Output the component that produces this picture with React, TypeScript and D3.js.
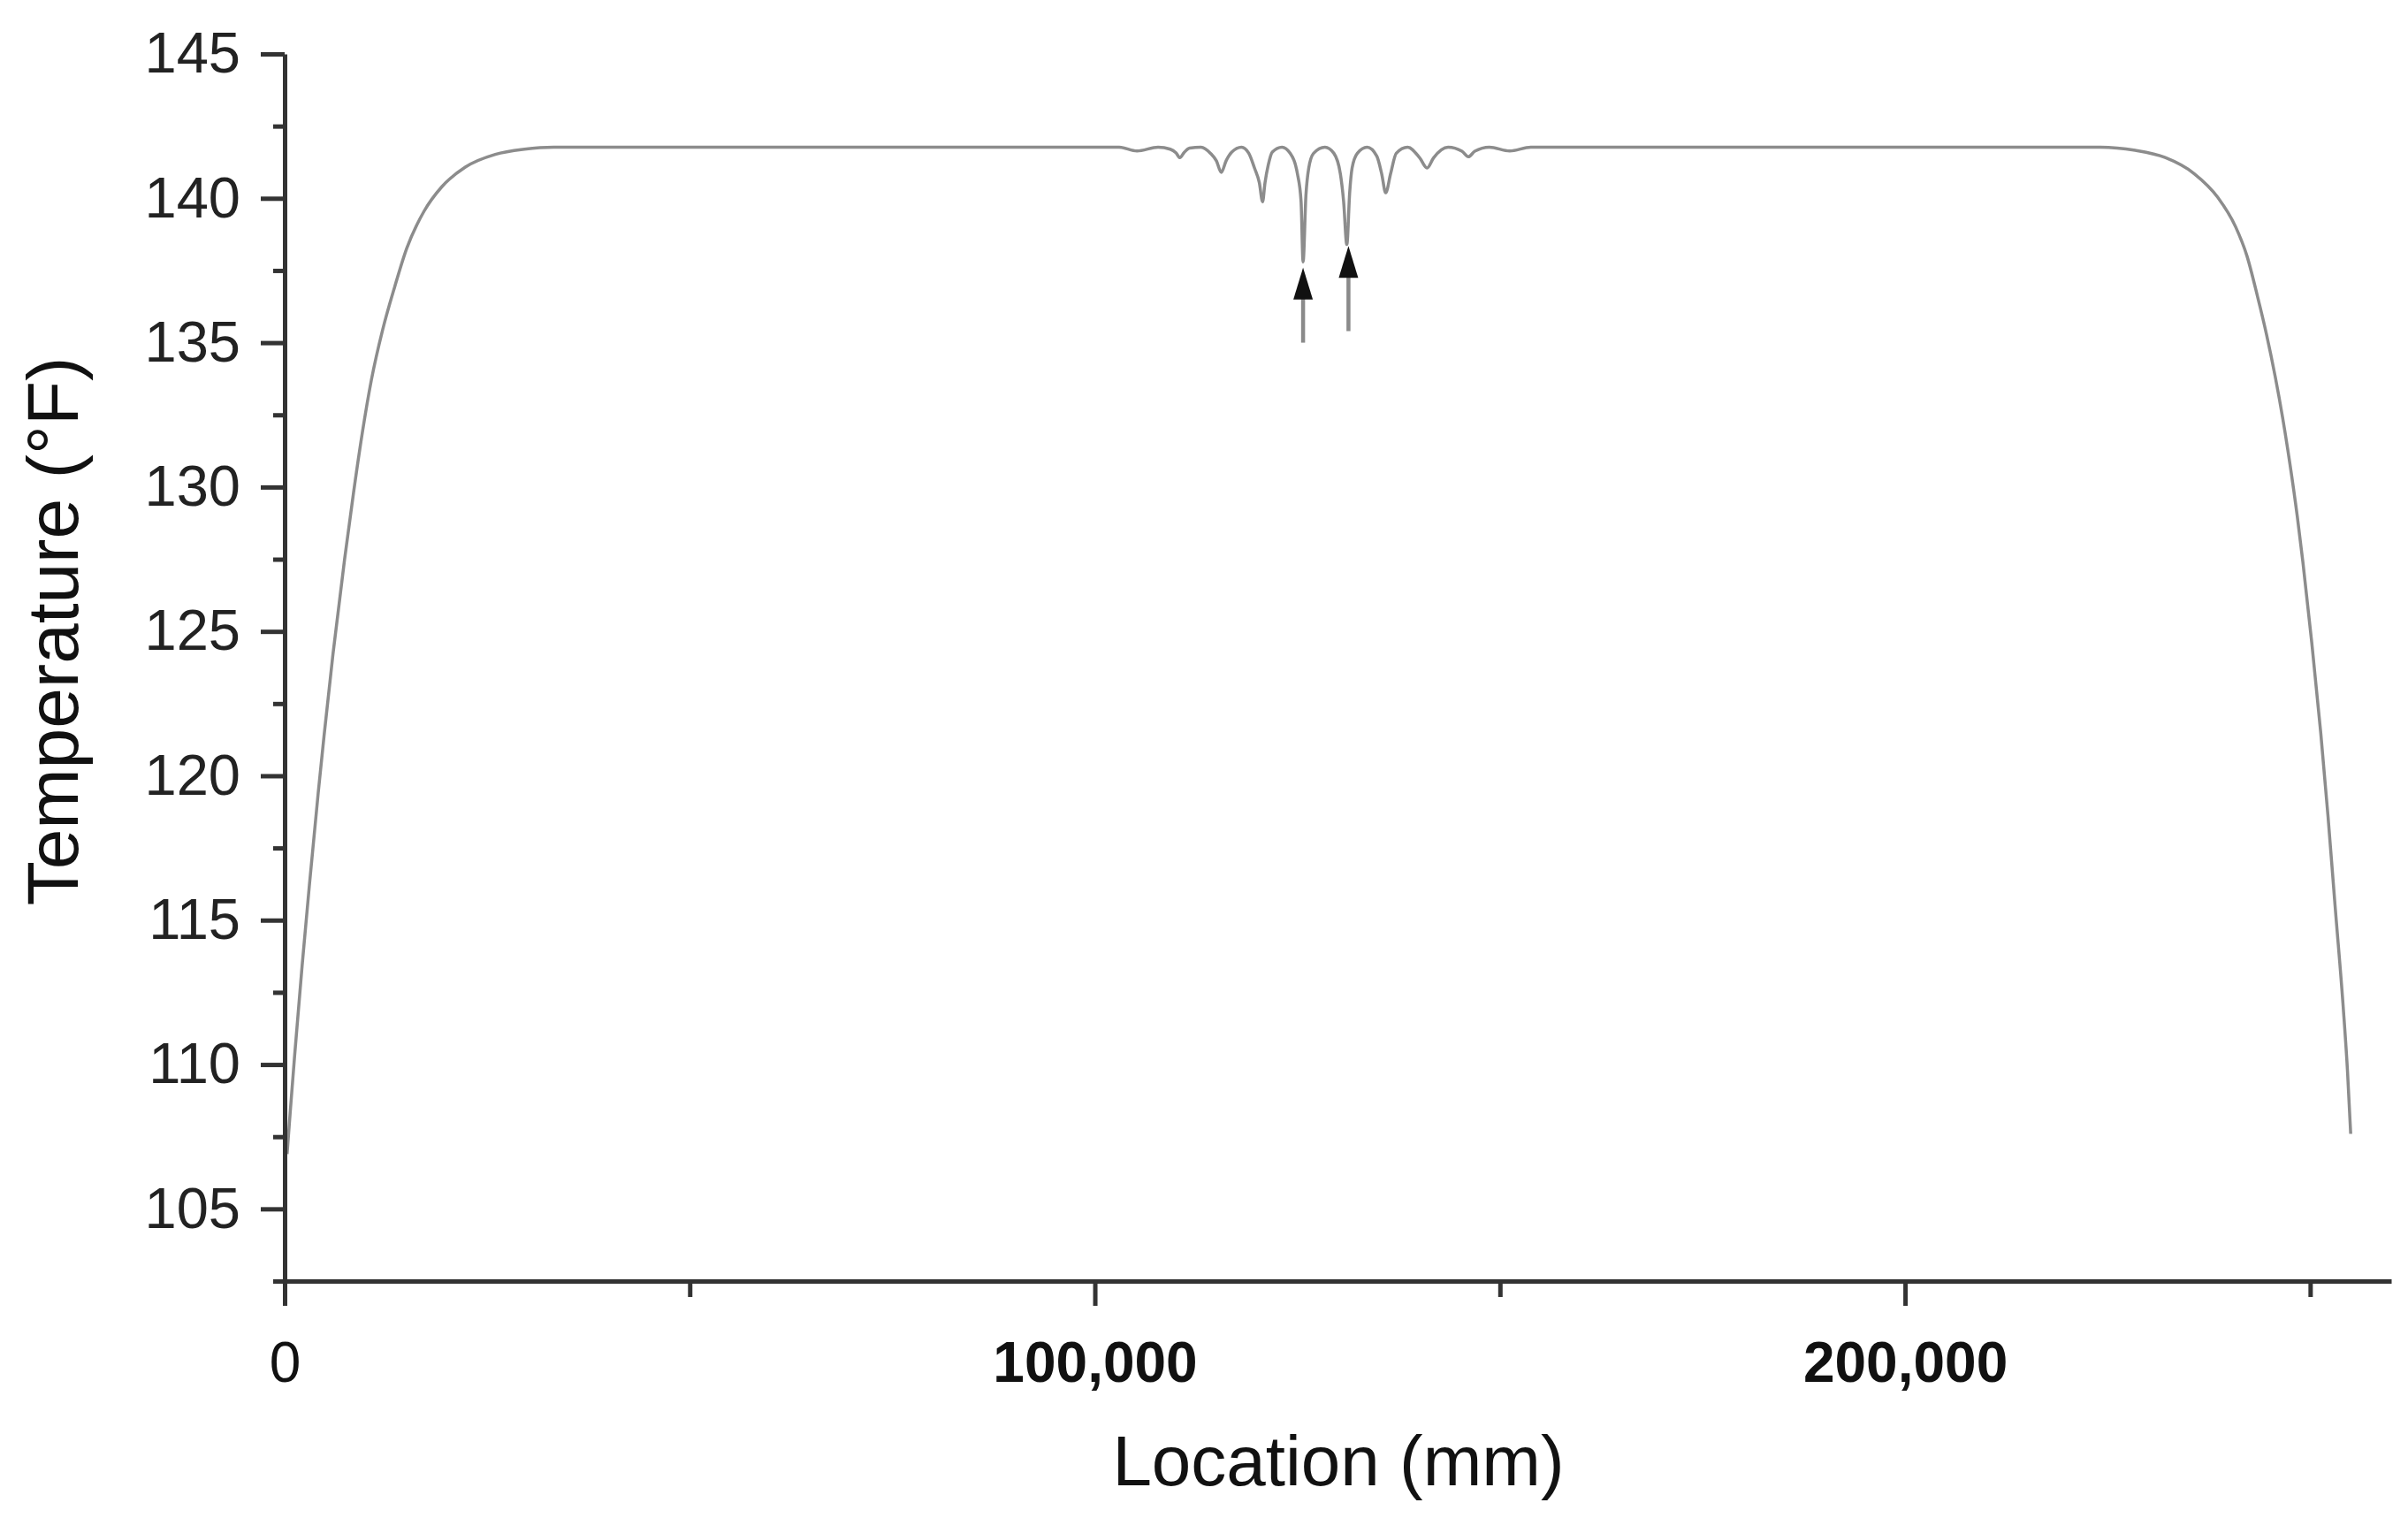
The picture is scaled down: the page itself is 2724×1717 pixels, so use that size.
import React, { useRef, useEffect } from 'react';
import * as d3 from 'd3';

const WIDTH = 2724;
const HEIGHT = 1717;

// Temperature profile: location in mm, temperature in °F
const riseLocation = [300, 700, 1230, 2150, 3050, 4140, 4870, 5960, 7400, 8500, 9600, 10700, 12100, 13600, 15050, 17200, 19400, 22300, 26000, 29600, 33200, 60000];
const riseTemp = [106.9, 108.4, 110.3, 113.4, 116.2, 119.4, 121.4, 124.2, 127.5, 129.8, 131.9, 133.7, 135.45, 136.95, 138.25, 139.55, 140.4, 141.08, 141.52, 141.7, 141.77, 141.77];

const dipLocation = [
    103000, 105200, 107800,
    109300, 110000, 110500, 111000, 111700, 113100,
    114300, 115000, 115600, 116200, 116900, 118100,
    119000, 119700, 120300, 120700, 121000, 121400, 121900, 123100,
    124100, 125000, 125450, 125700, 126050, 126400, 127000, 128400,
    129500, 130300, 130700, 131100, 131450, 131750, 132400, 133600,
    134800, 135400, 135900, 136500, 137200, 138600,
    140100, 141000, 141800, 143600,
    145300, 146100, 146900, 148700,
    151200, 153800, 190000
];
const dipTemp = [
    141.77, 141.64, 141.77,
    141.7, 141.58, 141.41, 141.58, 141.74, 141.77,
    141.55, 141.3, 140.9, 141.3, 141.6, 141.77,
    141.56, 141.05, 140.54, 139.88, 140.54, 141.15, 141.6, 141.77,
    141.56, 140.85, 139.9, 137.8, 140.1, 141.05, 141.56, 141.77,
    141.56, 140.85, 139.9, 138.4, 140.2, 141.05, 141.56, 141.77,
    141.46, 140.85, 140.19, 140.85, 141.56, 141.77,
    141.4, 141.05, 141.4, 141.77,
    141.63, 141.44, 141.63, 141.77,
    141.64, 141.77, 141.77
];

const fallLocation = [224100, 228400, 232100, 235700, 238600, 240800, 242200, 243500, 244600, 245700, 246600, 247500, 248400, 249100, 250200, 251300, 252200, 253100, 254100, 254600, 255000];
const fallTemp = [141.77, 141.66, 141.41, 140.85, 140.03, 139.01, 138.0, 136.6, 135.3, 133.8, 132.4, 130.8, 129.0, 127.4, 124.6, 121.5, 118.6, 115.4, 111.9, 109.8, 107.6];

// Axes
const yMajorTicks = [105, 110, 115, 120, 125, 130, 135, 140, 145];
const yMinorTicks = [102.5, 107.5, 112.5, 117.5, 122.5, 127.5, 132.5, 137.5, 142.5];
const xMajorTicks = [0, 100000, 200000];
const xMinorTicks = [50000, 150000, 250000];
const xTickLabels = ['0', '100,000', '200,000'];
const xTickBold = [false, true, true];

// Arrows marking the two deepest dips
const arrowLocation = [125700, 131300];
const arrowTipTemp = [137.6, 138.35];
const arrowTailTemp = [135.0, 135.4];

const FONT = '"Liberation Sans", Arial, Helvetica, sans-serif';
const AXIS_COLOR = '#333';

export default function App() {
    const svgRef = useRef<SVGSVGElement>(null);

    useEffect(() => {
        if (!svgRef.current) return;
        const svg = d3.select(svgRef.current);
        svg.selectAll('*').remove();

        const x = d3.scaleLinear().domain([0, 260000]).range([322, 2705]);
        const y = d3.scaleLinear().domain([102.5, 145]).range([1449, 61]);

        svg.append('rect')
            .attr('width', WIDTH)
            .attr('height', HEIGHT)
            .attr('fill', '#fff');

        // profile
        const points: [number, number][] = [
            ...riseLocation.map((d, i) => [d, riseTemp[i]] as [number, number]),
            ...dipLocation.map((d, i) => [d, dipTemp[i]] as [number, number]),
            ...fallLocation.map((d, i) => [d, fallTemp[i]] as [number, number]),
        ];

        const line = d3.line<[number, number]>()
            .x(d => x(d[0]))
            .y(d => y(d[1]))
            .curve(d3.curveMonotoneX);

        svg.append('path')
            .datum(points)
            .attr('d', line)
            .attr('fill', 'none')
            .attr('stroke', '#8c8c8c')
            .attr('stroke-width', 3.5);

        // arrows
        arrowLocation.forEach((loc, i) => {
            const ax = x(loc);
            const tipY = y(arrowTipTemp[i]);
            const headLen = 36;
            const halfW = 11;
            svg.append('line')
                .attr('x1', ax)
                .attr('x2', ax)
                .attr('y1', y(arrowTailTemp[i]))
                .attr('y2', tipY + headLen - 2)
                .attr('stroke', '#8a8a8a')
                .attr('stroke-width', 4.5);
            svg.append('polygon')
                .attr('points', `${ax},${tipY} ${ax - halfW},${tipY + headLen} ${ax + halfW},${tipY + headLen}`)
                .attr('fill', '#111');
        });

        // y axis
        const yAxis = svg.append('g')
            .attr('transform', `translate(${x(0)},0)`)
            .call(d3.axisLeft(y)
                .tickValues(yMajorTicks)
                .tickSize(27)
                .tickSizeOuter(0)
                .tickPadding(23)
                .tickFormat(d3.format('d')));
        yAxis.select('.domain').attr('stroke', AXIS_COLOR).attr('stroke-width', 5);
        yAxis.selectAll('.tick line').attr('stroke', AXIS_COLOR).attr('stroke-width', 5);
        yAxis.selectAll('.tick text')
            .attr('fill', '#222')
            .style('font-family', FONT)
            .style('font-size', '65px');

        const yMinor = svg.append('g')
            .attr('transform', `translate(${x(0)},0)`)
            .call(d3.axisLeft(y)
                .tickValues(yMinorTicks)
                .tickSize(13)
                .tickSizeOuter(0)
                .tickFormat(() => ''));
        yMinor.select('.domain').remove();
        yMinor.selectAll('.tick line').attr('stroke', AXIS_COLOR).attr('stroke-width', 5);

        // x axis
        const xAxis = svg.append('g')
            .attr('transform', `translate(0,${y(102.5)})`)
            .call(d3.axisBottom(x)
                .tickValues(xMajorTicks)
                .tickSize(28)
                .tickSizeOuter(0)
                .tickPadding(41)
                .tickFormat((_, i) => xTickLabels[i]));
        xAxis.select('.domain').attr('stroke', AXIS_COLOR).attr('stroke-width', 5);
        xAxis.selectAll('.tick line').attr('stroke', AXIS_COLOR).attr('stroke-width', 5);
        xAxis.selectAll<SVGTextElement, number>('.tick text')
            .attr('fill', '#111')
            .style('font-family', FONT)
            .style('font-size', '64px')
            .style('font-weight', (_, i) => (xTickBold[i] ? 'bold' : 'normal'));

        const xMinor = svg.append('g')
            .attr('transform', `translate(0,${y(102.5)})`)
            .call(d3.axisBottom(x)
                .tickValues(xMinorTicks)
                .tickSize(18)
                .tickSizeOuter(0)
                .tickFormat(() => ''));
        xMinor.select('.domain').remove();
        xMinor.selectAll('.tick line').attr('stroke', AXIS_COLOR).attr('stroke-width', 5);

        // axis titles
        svg.append('text')
            .attr('transform', 'translate(59,714) rotate(-90)')
            .attr('text-anchor', 'middle')
            .attr('dominant-baseline', 'central')
            .attr('fill', '#111')
            .style('font-family', FONT)
            .style('font-size', '82px')
            .text('Temperature (°F)');

        svg.append('text')
            .attr('x', 1514)
            .attr('y', 1680)
            .attr('text-anchor', 'middle')
            .attr('fill', '#111')
            .style('font-family', FONT)
            .style('font-size', '80px')
            .text('Location (mm)');
    }, []);

    return (
        <svg
            ref={svgRef}
            width={WIDTH}
            height={HEIGHT}
            style={{ position: 'absolute', left: 0, top: 0, display: 'block' }}
        />
    );
}
